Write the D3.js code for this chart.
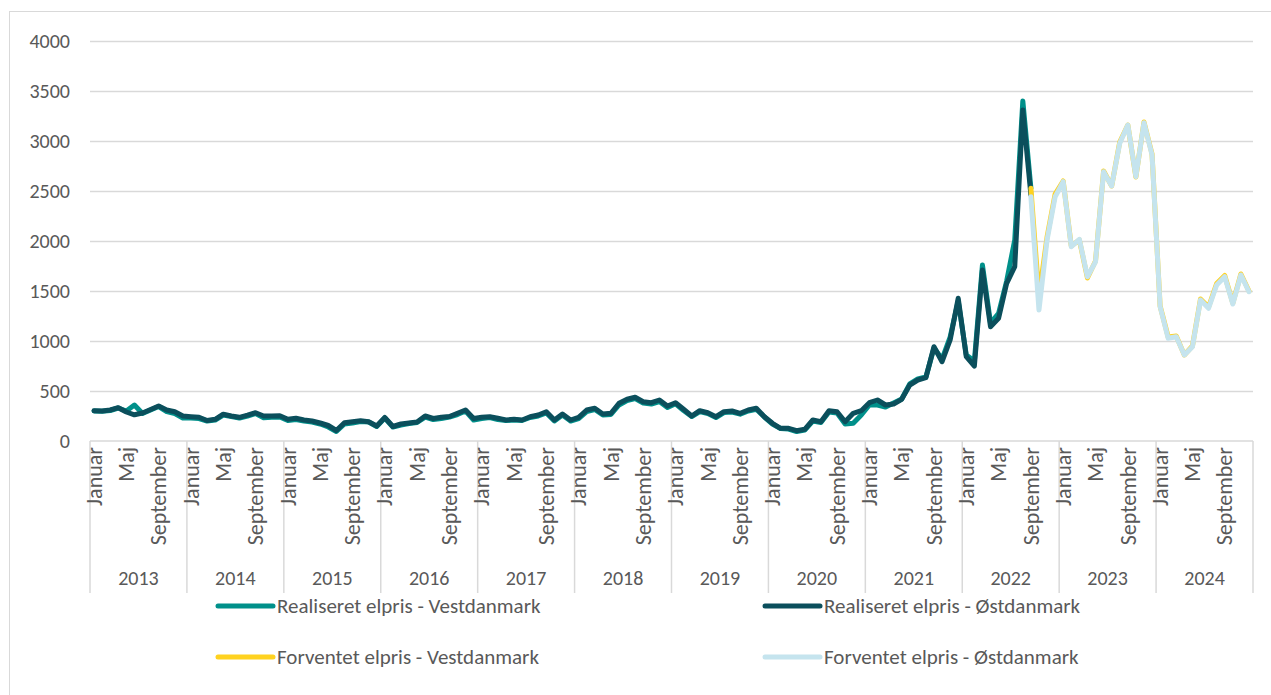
<!DOCTYPE html>
<html>
<head>
<meta charset="utf-8">
<script src="https://cdn.jsdelivr.net/npm/d3@7"></script>
<style>
  body { margin: 0; background: #fff; }
  text { font-family: Carlito, Calibri, Lato, sans-serif; fill: #595959; }
</style>
</head>
<body>
<script>
//Categories
var years = [2013, 2014, 2015, 2016, 2017, 2018, 2019, 2020, 2021, 2022, 2023, 2024];
var monthNames = ["Januar", "Februar", "Marts", "April", "Maj", "Juni", "Juli", "August", "September", "Oktober", "November", "December"];
var yTicks = [0, 500, 1000, 1500, 2000, 2500, 3000, 3500, 4000];

//Realised prices, Jan 2013 - Sep 2022
var realVest = [
  300, 297, 305, 330, 300, 360, 275, 310, 345, 295, 275, 230,
  230, 225, 200, 210, 260, 245, 230, 250, 275, 232, 238, 240,
  205, 215, 200, 190, 170, 140, 95, 170, 180, 195, 190, 145,
  230, 140, 160, 175, 185, 238, 215, 225, 240, 265, 300, 210,
  225, 235, 215, 205, 210, 205, 235, 250, 280, 200, 260, 200,
  225, 295, 315, 260, 265, 360, 405, 425, 380, 370, 395, 335,
  372, 305, 245, 295, 275, 235, 285, 290, 268, 300, 318, 240,
  170, 125, 120, 95, 110, 200, 185, 290, 280, 170, 177, 260,
  360, 360, 340, 380, 420, 570, 620, 640, 930, 820, 1040, 1400,
  860, 800, 1760, 1180, 1277, 1600, 2010, 3400, 2527
];
var realOest = [
  303, 300, 310, 333, 290, 262, 280, 315, 350, 310, 293, 250,
  243, 237, 205, 217, 268, 250, 237, 258, 283, 250, 250, 253,
  217, 227, 210, 200, 180, 155, 105, 183, 193, 203, 193, 150,
  235, 145, 170, 180, 190, 250, 225, 237, 245, 277, 310, 225,
  237, 243, 227, 210, 217, 210, 243, 260, 293, 210, 270, 210,
  237, 310, 327, 270, 277, 377, 417, 437, 393, 383, 410, 350,
  383, 317, 250, 303, 283, 243, 293, 300, 277, 310, 327, 243,
  177, 127, 127, 103, 117, 210, 193, 303, 293, 193, 277, 303,
  383, 410, 360, 370, 417, 560, 610, 633, 943, 793, 1010, 1427,
  843, 750, 1710, 1143, 1227, 1577, 1743, 3310, 2460
];

//Expected prices, Sep 2022 - Dec 2024
var forvVest = [
  2527, 1450, 2040, 2470, 2600, 1950, 2010, 1630, 1800, 2700, 2550, 2990,
  3160, 2640, 3190, 2870, 1350, 1040, 1050, 860, 950, 1420, 1340, 1575,
  1655, 1380, 1670, 1500
];
var forvOest = [
  2443, 1310, 2010, 2443, 2593, 1943, 2017, 1643, 1793, 2693, 2550, 2977,
  3160, 2643, 3183, 2860, 1343, 1027, 1043, 860, 943, 1410, 1327, 1560,
  1643, 1370, 1660, 1493
];
var forvStart = 116; //Sep 2022

var seriesNames = ["Realiseret elpris - Vestdanmark", "Realiseret elpris - Østdanmark",
                   "Forventet elpris - Vestdanmark", "Forventet elpris - Østdanmark"];
var seriesColors = ["#00908a", "#0b4f5c", "#ffd21f", "#c5e4ee"];

//Width and height
var w = 1271, h = 695;
var plotLeft = 90, plotRight = 1253, plotTop = 41, plotBottom = 441;

//One category per month
var cats = [];
years.forEach(function(yr) {
  monthNames.forEach(function(m, i) { cats.push({ year: yr, month: i, name: m }); });
});

var x = d3.scaleBand()
  .domain(d3.range(cats.length))
  .range([plotLeft, plotRight])
  .padding(0);

var y = d3.scaleLinear()
  .domain([0, 4000])
  .range([plotBottom, plotTop]);

var cx = function(i) { return x(i) + x.bandwidth() / 2; };

var svg = d3.select("body")
  .append("svg")
  .attr("width", w)
  .attr("height", h);

//Chart border
svg.append("rect")
  .attr("x", 9.5).attr("y", 11.5)
  .attr("width", w).attr("height", h)
  .attr("fill", "none")
  .attr("stroke", "#d9d9d9");

//Gridlines and y labels
var yAxis = d3.axisLeft(y)
  .tickValues(yTicks)
  .tickFormat(d3.format("d"))
  .tickSize(-(plotRight - plotLeft))
  .tickPadding(20);

var gy = svg.append("g")
  .attr("transform", "translate(" + plotLeft + ",0)")
  .call(yAxis);
gy.select(".domain").remove();
gy.selectAll("line").attr("stroke", "#d9d9d9").attr("stroke-width", 1.5);
gy.selectAll("text").attr("font-size", 20).style("font-family", null).attr("fill", "#595959");
gy.selectAll(".tick").filter(function(d) { return d === 0; }).select("line").remove();

//Category axis
var axisG = svg.append("g");
axisG.append("line")
  .attr("x1", plotLeft).attr("x2", plotRight)
  .attr("y1", plotBottom).attr("y2", plotBottom)
  .attr("stroke", "#d9d9d9").attr("stroke-width", 1.5);

axisG.selectAll(".sep")
  .data(d3.range(years.length + 1))
  .enter()
  .append("line")
  .attr("x1", function(d) { return plotLeft + d * 12 * x.bandwidth(); })
  .attr("x2", function(d) { return plotLeft + d * 12 * x.bandwidth(); })
  .attr("y1", plotBottom)
  .attr("y2", 593)
  .attr("stroke", "#d9d9d9").attr("stroke-width", 1.5);

axisG.selectAll(".mlab")
  .data(cats.map(function(c, i) { return { c: c, i: i }; }).filter(function(d) { return d.c.month % 4 === 0; }))
  .enter()
  .append("text")
  .attr("transform", function(d) { return "translate(" + cx(d.i) + ",447) rotate(-90)"; })
  .attr("text-anchor", "end")
  .attr("dy", "0.35em")
  .attr("font-size", 22)
  .text(function(d) { return d.c.name; });

axisG.selectAll(".ylab")
  .data(years)
  .enter()
  .append("text")
  .attr("x", function(d, i) { return plotLeft + (i + 0.5) * 12 * x.bandwidth(); })
  .attr("y", 578)
  .attr("dy", "0.35em")
  .attr("text-anchor", "middle")
  .attr("font-size", 20)
  .text(function(d) { return d; });

//Lines
var line = d3.line()
  .x(function(d) { return cx(d.i); })
  .y(function(d) { return y(d.v); });

var series = [
  realVest.map(function(v, i) { return { i: i, v: v }; }),
  realOest.map(function(v, i) { return { i: i, v: v }; }),
  forvVest.map(function(v, i) { return { i: i + forvStart, v: v }; }),
  forvOest.map(function(v, i) { return { i: i + forvStart, v: v }; })
];

svg.selectAll(".series")
  .data(series)
  .enter()
  .append("path")
  .attr("d", line)
  .attr("fill", "none")
  .attr("stroke", function(d, i) { return seriesColors[i]; })
  .attr("stroke-width", 5)
  .attr("stroke-linejoin", "round")
  .attr("stroke-linecap", "round");

//Legend
var legendPos = [[218, 606], [765, 606], [218, 657], [765, 657]];
var legend = svg.selectAll(".legend")
  .data(seriesNames)
  .enter()
  .append("g")
  .attr("transform", function(d, i) { return "translate(" + legendPos[i][0] + "," + legendPos[i][1] + ")"; });

legend.append("line")
  .attr("x1", 0).attr("x2", 55)
  .attr("stroke", function(d, i) { return seriesColors[i]; })
  .attr("stroke-width", 5)
  .attr("stroke-linecap", "round");

legend.append("text")
  .attr("x", 59)
  .attr("dy", "0.35em")
  .attr("font-size", 21)
  .text(function(d) { return d; });
</script>
</body>
</html>
